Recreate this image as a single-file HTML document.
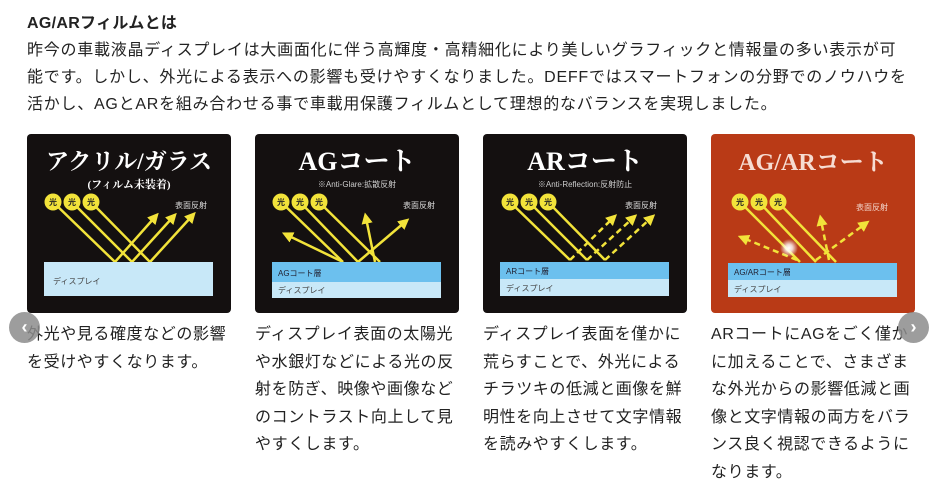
<!DOCTYPE html>
<html><head><meta charset="utf-8">
<style>
*{margin:0;padding:0;box-sizing:border-box}
body{width:940px;height:488px;background:#fff;position:relative;overflow:hidden;font-family:"Liberation Sans","Noto Sans CJK JP",sans-serif;color:#222}
.h{position:absolute;left:27px;top:9px;font-size:16px;font-weight:bold;letter-spacing:0.3px}
.p{position:absolute;left:27px;font-size:16px;letter-spacing:0.75px;white-space:nowrap}
.card{position:absolute;top:134px;width:204px;height:179px;border-radius:4px;background:#141010}
.card svg{position:absolute;left:0;top:0}
.t{position:absolute;top:321px;width:206px;font-size:16px;line-height:27.6px;letter-spacing:0.6px;overflow:hidden}
.nav{position:absolute;top:312px;width:31px;height:31px;border-radius:50%;background:rgba(140,140,140,.85);color:#fff;font-size:18px;font-weight:bold;text-align:center;line-height:30px}
</style></head><body>
<div class="h">AG/ARフィルムとは</div>
<div class="p" style="top:36px">昨今の車載液晶ディスプレイは大画面化に伴う高輝度・高精細化により美しいグラフィックと情報量の多い表示が可</div>
<div class="p" style="top:63px">能です。しかし、外光による表示への影響も受けやすくなりました。DEFFではスマートフォンの分野でのノウハウを</div>
<div class="p" style="top:90px">活かし、AGとARを組み合わせる事で車載用保護フィルムとして理想的なバランスを実現しました。</div>

<svg width="0" height="0" style="position:absolute"><defs>
<marker id="ah" viewBox="0 0 10 10" refX="5" refY="5" markerWidth="4.5" markerHeight="4.5" orient="auto"><path d="M0,0L10,5L0,10z" fill="#f2e33a"/></marker>
<radialGradient id="fl"><stop offset="0" stop-color="#fff"/><stop offset=".4" stop-color="#fff" stop-opacity=".8"/><stop offset="1" stop-color="#fff" stop-opacity="0"/></radialGradient>
</defs></svg>

<!-- card 1 -->
<div class="card" style="left:27px"><svg width="204" height="179">
<text x="102" y="35" text-anchor="middle" fill="#fff" font-family="Liberation Serif,Noto Serif CJK SC,serif" font-weight="bold" font-size="23">アクリル/ガラス</text>
<text x="102" y="54" text-anchor="middle" fill="#fff" font-family="Liberation Serif,Noto Serif CJK SC,serif" font-weight="bold" font-size="11">(フィルム未装着)</text>
<g stroke="#f2e33a" stroke-width="2.5" fill="none">
<path d="M26,68L88,128L128,83" marker-end="url(#ah)"/><path d="M45,68L105,128L146,83" marker-end="url(#ah)"/><path d="M64,68L123,128L165,82" marker-end="url(#ah)"/></g>
<g fill="#f2e33a"><circle cx="26" cy="68" r="8.5"/><circle cx="45" cy="68" r="8.5"/><circle cx="64" cy="68" r="8.5"/></g>
<g font-size="8" text-anchor="middle" fill="#222" font-weight="bold"><text x="26" y="71">光</text><text x="45" y="71">光</text><text x="64" y="71">光</text></g>
<text x="148" y="74" fill="#ddd" font-size="8">表面反射</text>
<rect x="17" y="128" width="169" height="34" fill="#c8e8f8"/>
<text x="26" y="150" fill="#444" font-size="8">ディスプレイ</text>
</svg></div>

<!-- card 2 -->
<div class="card" style="left:255px"><svg width="204" height="179">
<text x="102" y="36" text-anchor="middle" fill="#fff" font-family="Liberation Serif,Noto Serif CJK SC,serif" font-weight="bold" font-size="26">AGコート</text>
<text x="102" y="53" text-anchor="middle" fill="#ccc" font-size="8">※Anti-Glare:拡散反射</text>
<g stroke="#f2e33a" stroke-width="2.5" fill="none">
<path d="M26,68L88,128"/><path d="M45,68L103,128"/><path d="M64,68L125,128"/>
<path d="M88,128L32,101" marker-end="url(#ah)"/><path d="M120,128L111,84" marker-end="url(#ah)"/><path d="M103,128L150,88" marker-end="url(#ah)"/></g>
<g fill="#f2e33a"><circle cx="26" cy="68" r="8.5"/><circle cx="45" cy="68" r="8.5"/><circle cx="64" cy="68" r="8.5"/></g>
<g font-size="8" text-anchor="middle" fill="#222" font-weight="bold"><text x="26" y="71">光</text><text x="45" y="71">光</text><text x="64" y="71">光</text></g>
<text x="148" y="74" fill="#ddd" font-size="8">表面反射</text>
<rect x="17" y="128" width="169" height="20" fill="#6cc0ee"/>
<rect x="17" y="148" width="169" height="16" fill="#c8e8f8"/>
<text x="23" y="142" fill="#223" font-size="8">AGコート層</text>
<text x="23" y="159" fill="#444" font-size="8">ディスプレイ</text>
</svg></div>

<!-- card 3 -->
<div class="card" style="left:483px"><svg width="204" height="179">
<text x="102" y="36" text-anchor="middle" fill="#fff" font-family="Liberation Serif,Noto Serif CJK SC,serif" font-weight="bold" font-size="26">ARコート</text>
<text x="102" y="53" text-anchor="middle" fill="#ccc" font-size="8">※Anti-Reflection:反射防止</text>
<g stroke="#f2e33a" stroke-width="2.5" fill="none">
<path d="M27,68L87,126"/><path d="M46,68L104,126"/><path d="M65,68L122,126"/>
<g stroke-dasharray="6,4"><path d="M87,126L130,84" marker-end="url(#ah)"/><path d="M104,126L150,84" marker-end="url(#ah)"/><path d="M122,126L168,84" marker-end="url(#ah)"/></g></g>
<g fill="#f2e33a"><circle cx="27" cy="68" r="8.5"/><circle cx="46" cy="68" r="8.5"/><circle cx="65" cy="68" r="8.5"/></g>
<g font-size="8" text-anchor="middle" fill="#222" font-weight="bold"><text x="27" y="71">光</text><text x="46" y="71">光</text><text x="65" y="71">光</text></g>
<text x="142" y="74" fill="#ddd" font-size="8">表面反射</text>
<rect x="17" y="128" width="169" height="17" fill="#6cc0ee"/>
<rect x="17" y="145" width="169" height="17" fill="#c8e8f8"/>
<text x="23" y="140" fill="#223" font-size="8">ARコート層</text>
<text x="23" y="157" fill="#444" font-size="8">ディスプレイ</text>
</svg></div>

<!-- card 4 -->
<div class="card" style="left:711px;background:#b93a16"><svg width="204" height="179">
<text x="102" y="36" text-anchor="middle" fill="#f6dcd2" font-family="Liberation Serif,Noto Serif CJK SC,serif" font-weight="bold" font-size="24">AG/ARコート</text>
<g stroke="#f2e33a" stroke-width="2.5" fill="none">
<path d="M29,68L89,128"/><path d="M48,68L105,128"/><path d="M67,68L125,128"/>
<g stroke-dasharray="6,4"><path d="M86,126L32,104" marker-end="url(#ah)"/><path d="M118,126L110,86" marker-end="url(#ah)"/><path d="M105,126L154,90" marker-end="url(#ah)"/></g></g>
<circle cx="78" cy="114" r="9" fill="url(#fl)"/>
<g fill="#f2e33a"><circle cx="29" cy="68" r="8.5"/><circle cx="48" cy="68" r="8.5"/><circle cx="67" cy="68" r="8.5"/></g>
<g font-size="8" text-anchor="middle" fill="#222" font-weight="bold"><text x="29" y="71">光</text><text x="48" y="71">光</text><text x="67" y="71">光</text></g>
<text x="145" y="76" fill="#f3d6cc" font-size="8">表面反射</text>
<rect x="17" y="129" width="169" height="17" fill="#6cc0ee"/>
<rect x="17" y="146" width="169" height="17" fill="#c8e8f8"/>
<text x="23" y="141" fill="#223" font-size="8">AG/ARコート層</text>
<text x="23" y="158" fill="#444" font-size="8">ディスプレイ</text>
</svg></div>

<div class="t" style="left:27px">外光や見る確度などの影響<br>を受けやすくなります。</div>
<div class="t" style="left:255px">ディスプレイ表面の太陽光<br>や水銀灯などによる光の反<br>射を防ぎ、映像や画像など<br>のコントラスト向上して見<br>やすくします。</div>
<div class="t" style="left:483px">ディスプレイ表面を僅かに<br>荒らすことで、外光による<br>チラツキの低減と画像を鮮<br>明性を向上させて文字情報<br>を読みやすくします。</div>
<div class="t" style="left:711px">ARコートにAGをごく僅か<br>に加えることで、さまざま<br>な外光からの影響低減と画<br>像と文字情報の両方をバラ<br>ンス良く視認できるように<br>なります。</div>

<div class="nav" style="left:9px">‹</div>
<div class="nav" style="left:898px">›</div>
</body></html>
